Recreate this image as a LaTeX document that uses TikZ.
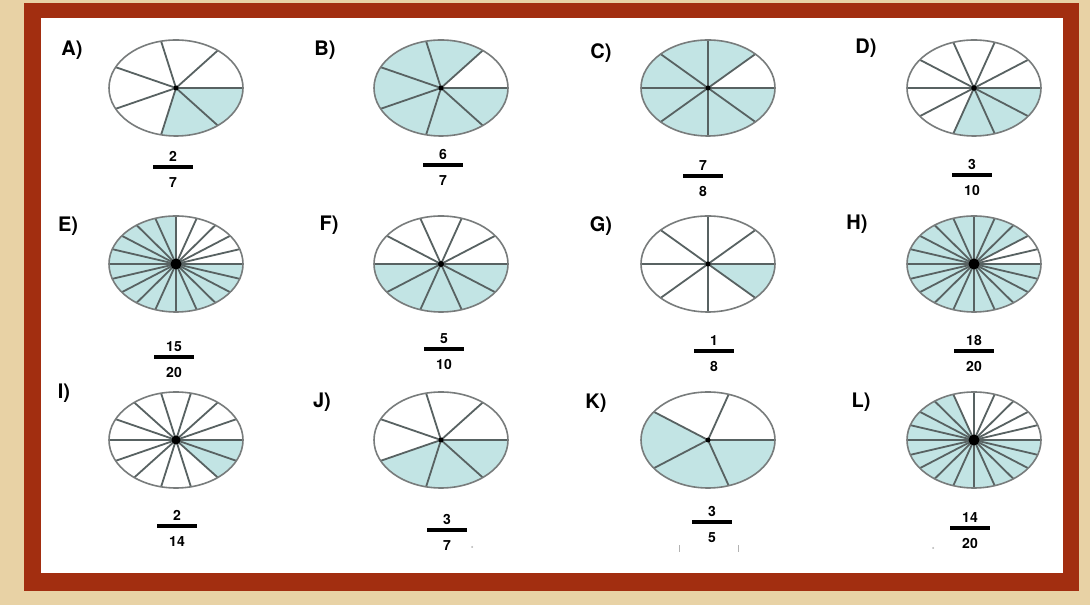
\documentclass[tikz,border=0pt]{standalone}
\usepackage{fontspec}
\setmainfont{TeX Gyre Heros}
\definecolor{bgc}{RGB}{232,210,165}
\definecolor{framec}{RGB}{162,46,16}
\definecolor{piefillc}{RGB}{194,228,228}
\definecolor{spokec}{RGB}{88,98,98}
\definecolor{rimc}{RGB}{120,124,124}
\tikzset{
  lab/.style={font=\bfseries\fontsize{20}{20}\selectfont, inner sep=0pt},
  num/.style={font=\bfseries\fontsize{14}{14}\selectfont, inner sep=0pt},
  fbar/.style={line width=3.2pt, black},
  spoke/.style={draw=spokec, line width=1.8pt},
  rim/.style={draw=rimc, line width=1.6pt},
  piefill/.style={fill=piefillc},
  faint/.style={draw=gray!60, line width=0.8pt}
}
% cx cy n start end dotradius
\newcommand\fracpie[6]{%
  \begin{scope}[shift={(#1,#2)}]
    \fill[piefill] (0,0) -- ({67*cos(#4)},{48*sin(#4)}) arc[start angle=#4, end angle=#5, x radius=67, y radius=48] -- cycle;
    \foreach \k in {1,...,#3} \draw[spoke] (0,0) -- ({67*cos(\k*360/#3)},{48*sin(\k*360/#3)});
    \draw[rim] (0,0) ellipse[x radius=67, y radius=48];
    \fill (0,0) circle[radius=#6];
  \end{scope}}
% name x ybar num den
\newcommand\fracnum[5]{%
  \draw[fbar] ({#2-20},#3) -- ({#2+20},#3);
  \node[num] (#1n) at (#2,{#3+10.5}) {#4};
  \node[num] (#1d) at (#2,{#3-15.5}) {#5};}
\begin{document}
\begin{tikzpicture}[x=1pt,y=1pt]
\useasboundingbox (0,0) rectangle (1090,605);
\fill[bgc] (0,0) rectangle (1090,605);
\fill[framec] (24,14) rectangle (1079,602);
\fill[white] (41,32) rectangle (1063,587);

% row 1
\fracpie{176}{517}{7}{-720/7}{0}{2.5}
\fracpie{441}{517}{7}{360/7}{360}{2.5}
\fracpie{708}{517}{8}{45}{360}{2.5}
\fracpie{974}{517}{10}{-108}{0}{2.8}
% row 2
\fracpie{176}{341}{20}{90}{360}{5.5}
\fracpie{441}{341}{10}{180}{360}{3}
\fracpie{708}{341}{8}{-45}{0}{2.5}
\fracpie{974}{341}{20}{36}{360}{5.5}
% row 3
\fracpie{176}{165}{14}{-720/14}{0}{4.5}
\fracpie{441}{165}{7}{-1080/7}{0}{2.5}
\fracpie{708}{165}{5}{144}{360}{2.5}
\fracpie{974}{165}{20}{108}{360}{5.5}

% labels
\node[lab] (la) at (72,555) {A)};
\node[lab] (lb) at (325,555) {B)};
\node[lab] (lc) at (601,552) {C)};
\node[lab] (ld) at (866,557) {D)};
\node[lab] (le) at (68,379) {E)};
\node[lab] (lf) at (329,380) {F)};
\node[lab] (lg) at (601,379) {G)};
\node[lab] (lh) at (857,381) {H)};
\node[lab] (li) at (64,212) {I)};
\node[lab] (lj) at (322,203) {J)};
\node[lab] (lk) at (596,202) {K)};
\node[lab] (ll) at (861,203) {L)};

% fractions
\fracnum{fa}{173}{438}{2}{7}
\fracnum{fb}{443}{440}{6}{7}
\fracnum{fc}{703}{429}{7}{8}
\fracnum{fd}{972}{430}{3}{10}
\fracnum{fe}{174}{248}{15}{20}
\fracnum{ff}{444}{256}{5}{10}
\fracnum{fg}{714}{254}{1}{8}
\fracnum{fh}{974}{254}{18}{20}
\fracnum{fi}{177}{79}{2}{14}
\fracnum{fj}{447}{75}{3}{7}
\fracnum{fk}{712}{83}{3}{5}
\fracnum{fl}{970}{77}{14}{20}

% small marks
\draw[faint] (679,53) -- (679,60);
\draw[faint] (738,53) -- (738,60);
\fill[gray!60] (472,58) circle[radius=1];
\fill[gray!60] (933,57) circle[radius=1];
\end{tikzpicture}
\end{document}
